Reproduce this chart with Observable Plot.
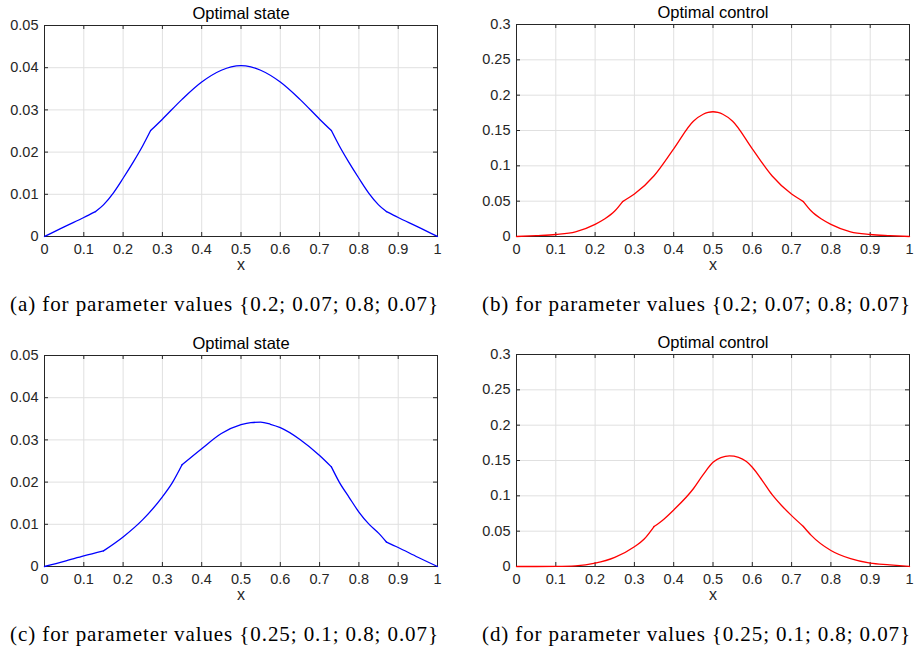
<!DOCTYPE html>
<html>
<head>
<meta charset="utf-8">
<script src="https://cdn.jsdelivr.net/npm/d3@7"></script>
<script src="https://cdn.jsdelivr.net/npm/@observablehq/plot@0.6"></script>
<style>
  html, body { margin: 0; padding: 0; background: #fff; }
  #root { position: relative; width: 914px; height: 652px; overflow: hidden; background: #fff; }
  .panel { position: absolute; }
  .cap { position: absolute; font-family: "Liberation Serif", "Times New Roman", serif; font-size: 21px; line-height: 21px; white-space: nowrap; color: #000; }
</style>
</head>
<body>
<div id="root"></div>
<script>
// ---- data ----
const xTicks = [0, 0.1, 0.2, 0.3, 0.4, 0.5, 0.6, 0.7, 0.8, 0.9, 1];
const stateTicks = [0, 0.01, 0.02, 0.03, 0.04, 0.05];
const controlTicks = [0, 0.05, 0.1, 0.15, 0.2, 0.25, 0.3];

const titles = ["Optimal state", "Optimal control", "Optimal state", "Optimal control"];
const captions = [
  "(a) for parameter values {0.2; 0.07; 0.8; 0.07}",
  "(b) for parameter values {0.2; 0.07; 0.8; 0.07}",
  "(c) for parameter values {0.25; 0.1; 0.8; 0.07}",
  "(d) for parameter values {0.25; 0.1; 0.8; 0.07}"
];

// (a) optimal state, parameters {0.2; 0.07; 0.8; 0.07}
const stateAx = [0, 0.05, 0.1, 0.13, 0.15, 0.175, 0.2, 0.225, 0.25, 0.27, 0.3, 0.35, 0.4, 0.45, 0.475, 0.5, 0.525, 0.55, 0.6, 0.65, 0.7, 0.73, 0.75, 0.775, 0.8, 0.825, 0.85, 0.87, 0.9, 0.95, 1];
const stateAy = [0, 0.0023, 0.0045, 0.0059, 0.0075, 0.0103, 0.0138, 0.0175, 0.0215, 0.0251, 0.0278, 0.0325, 0.0366, 0.0394, 0.0402, 0.0405, 0.0402, 0.0394, 0.0366, 0.0325, 0.0278, 0.0251, 0.0215, 0.0175, 0.0138, 0.0103, 0.0075, 0.0059, 0.0045, 0.0023, 0];
const kinksA = [0.13, 0.27, 0.73, 0.87];

// (b) optimal control, parameters {0.2; 0.07; 0.8; 0.07}
const controlBx = [0, 0.05, 0.1, 0.15, 0.2, 0.225, 0.25, 0.27, 0.3, 0.35, 0.4, 0.45, 0.475, 0.4875, 0.5, 0.5125, 0.525, 0.55, 0.6, 0.65, 0.7, 0.73, 0.75, 0.775, 0.8, 0.85, 0.9, 0.95, 1];
const controlBy = [0, 0.0012, 0.0028, 0.0065, 0.0172, 0.025, 0.036, 0.0494, 0.060, 0.086, 0.124, 0.163, 0.173, 0.1755, 0.1765, 0.1755, 0.173, 0.163, 0.124, 0.086, 0.060, 0.0494, 0.036, 0.025, 0.0172, 0.0065, 0.0028, 0.0012, 0];
const kinksB = [0.27, 0.73];

// (c) optimal state, parameters {0.25; 0.1; 0.8; 0.07}
const stateCx = [0, 0.05, 0.1, 0.15, 0.2, 0.25, 0.3, 0.325, 0.35, 0.4, 0.45, 0.5, 0.525, 0.55, 0.575, 0.6, 0.65, 0.7, 0.73, 0.75, 0.775, 0.8, 0.825, 0.85, 0.87, 0.9, 0.95, 1];
const stateCy = [0, 0.0012, 0.0025, 0.0037, 0.0070, 0.0111, 0.0165, 0.0198, 0.0241, 0.0279, 0.0315, 0.0336, 0.0341, 0.0342, 0.0337, 0.0329, 0.0301, 0.0263, 0.0236, 0.0200, 0.0164, 0.0129, 0.0101, 0.0079, 0.0058, 0.0045, 0.0022, 0];
const kinksC = [0.15, 0.35, 0.73, 0.87];

// (d) optimal control, parameters {0.25; 0.1; 0.8; 0.07}
const controlDx = [0, 0.05, 0.1, 0.15, 0.2, 0.25, 0.3, 0.325, 0.35, 0.375, 0.4, 0.45, 0.475, 0.5, 0.52, 0.542, 0.565, 0.585, 0.6, 0.625, 0.65, 0.675, 0.7, 0.73, 0.75, 0.8, 0.85, 0.9, 0.95, 1];
const controlDy = [0, 0, 0.0002, 0.001, 0.0047, 0.013, 0.028, 0.039, 0.0566, 0.067, 0.080, 0.110, 0.130, 0.1475, 0.1540, 0.1565, 0.1545, 0.1485, 0.1405, 0.122, 0.102, 0.086, 0.072, 0.0566, 0.044, 0.0226, 0.011, 0.0047, 0.0024, 0];
const kinksD = [0.35, 0.73];

// ---- drawing ----
const root = document.getElementById("root");
const H = 280, W = 457, MB = 44;

// split a curve into smooth pieces at its kinks (kink point shared by both pieces)
function pieces(xs, ys, kinks) {
  const rows = [];
  let seg = 0;
  xs.forEach((x, i) => {
    rows.push({x, y: ys[i], seg});
    if (kinks.some(k => Math.abs(k - x) < 1e-9)) {
      seg++;
      rows.push({x, y: ys[i], seg});
    }
  });
  return rows;
}

function panel({xs, ys, kinks, yTicks, yMax, color, title, left, top, marginLeft, marginRight, marginTop}) {
  const rows = pieces(xs, ys, kinks);
  const innerH = H - marginTop - MB;
  const innerW = W - marginLeft - marginRight;
  const ax = "#262626";
  const svg = Plot.plot({
    width: W, height: H,
    marginLeft, marginRight, marginTop, marginBottom: MB,
    x: {domain: [0, 1]},
    y: {domain: [0, yMax]},
    style: {fontFamily: "'Liberation Sans', Arial, sans-serif", fontSize: "14.5px", color: ax, background: "transparent", overflow: "visible"},
    marks: [
      Plot.gridX(xTicks, {stroke: "#e0e0e0", strokeOpacity: 1}),
      Plot.gridY(yTicks, {stroke: "#e0e0e0", strokeOpacity: 1}),
      Plot.tickX(xTicks, {x: d => d, insetTop: innerH - 4, stroke: ax}),
      Plot.tickX(xTicks, {x: d => d, insetBottom: innerH - 4, stroke: ax}),
      Plot.tickY(yTicks, {y: d => d, insetRight: innerW - 4, stroke: ax}),
      Plot.tickY(yTicks, {y: d => d, insetLeft: innerW - 4, stroke: ax}),
      Plot.frame({stroke: ax, strokeWidth: 1}),
      Plot.axisX(xTicks, {tickSize: 0, tickPadding: 7, tickFormat: d => String(d), label: null}),
      Plot.axisY(yTicks, {tickSize: 0, tickPadding: 6, tickFormat: d => String(d), label: null}),
      Plot.line(rows, {x: "x", y: "y", z: "seg", stroke: color, strokeWidth: 1.3, curve: "monotone-x"}),
      Plot.text([title], {frameAnchor: "top", dy: -18, fontSize: 16.5, fill: "#000", text: d => d}),
      Plot.text(["x"], {frameAnchor: "bottom", dy: 33, fontSize: 16, fill: ax, text: d => d})
    ]
  });
  svg.classList.add("panel");
  svg.style.left = left + "px";
  svg.style.top = top + "px";
  root.appendChild(svg);
}

panel({xs: stateAx, ys: stateAy, kinks: kinksA, yTicks: stateTicks, yMax: 0.05, color: "#0000ff", title: titles[0], left: 0, top: 0, marginLeft: 44, marginRight: 20, marginTop: 25});
panel({xs: controlBx, ys: controlBy, kinks: kinksB, yTicks: controlTicks, yMax: 0.3, color: "#ff0000", title: titles[1], left: 457, top: 0, marginLeft: 59, marginRight: 5, marginTop: 24});
panel({xs: stateCx, ys: stateCy, kinks: kinksC, yTicks: stateTicks, yMax: 0.05, color: "#0000ff", title: titles[2], left: 0, top: 330, marginLeft: 44, marginRight: 20, marginTop: 25});
panel({xs: controlDx, ys: controlDy, kinks: kinksD, yTicks: controlTicks, yMax: 0.3, color: "#ff0000", title: titles[3], left: 457, top: 330, marginLeft: 59, marginRight: 5, marginTop: 24});

const capPos = [[10, 294], [482, 294], [10, 624], [482, 624]];
const capWidth = 428;
captions.forEach((c, i) => {
  const d = document.createElement("div");
  d.className = "cap";
  d.textContent = c;
  d.style.left = capPos[i][0] + "px";
  d.style.top = capPos[i][1] + "px";
  root.appendChild(d);
  const w = d.getBoundingClientRect().width;
  const ls = (capWidth - w) / (c.length - 1);
  d.style.letterSpacing = ls.toFixed(3) + "px";
});
</script>
</body>
</html>
